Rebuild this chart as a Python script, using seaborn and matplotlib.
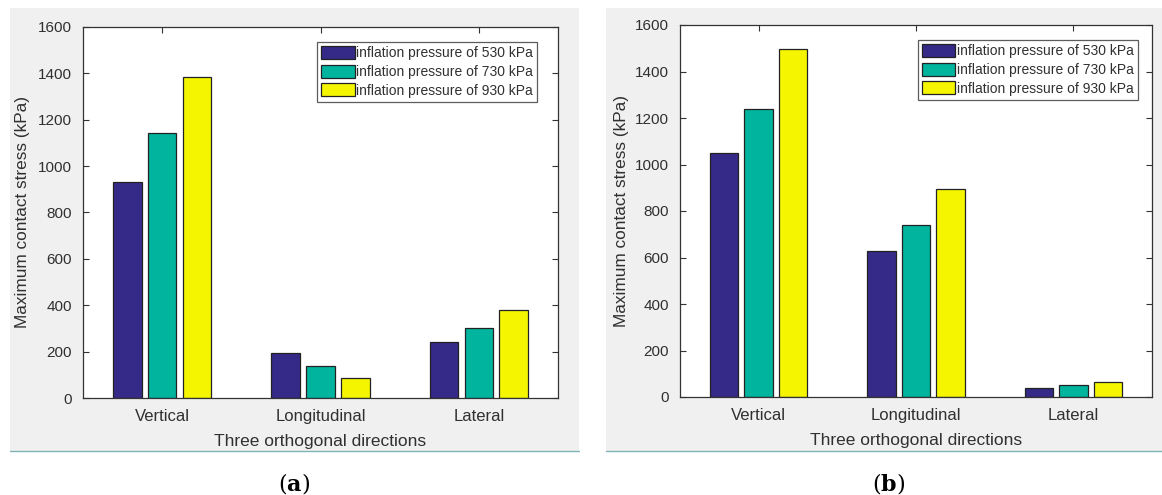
import matplotlib
matplotlib.use("Agg")
import matplotlib.pyplot as plt
import seaborn as sns
import pandas as pd
from matplotlib.patches import Rectangle

directions = ["Vertical", "Longitudinal", "Lateral"]
pressures = ["inflation pressure of 530 kPa", "inflation pressure of 730 kPa", "inflation pressure of 930 kPa"]
stress_a_530 = [930, 195, 240]
stress_a_730 = [1145, 140, 300]
stress_a_930 = [1385, 85, 380]
stress_b_530 = [1050, 630, 38]
stress_b_730 = [1240, 740, 52]
stress_b_930 = [1495, 893, 65]
yticks = [0, 200, 400, 600, 800, 1000, 1200, 1400, 1600]
colors = ["#352a87", "#00b49e", "#f5f500"]

sns.set_theme(style="white")
plt.rcParams["font.family"] = ["Liberation Sans", "DejaVu Sans"]

W, H = 1162, 495
fig = plt.figure(figsize=(W / 100, H / 100), dpi=100)
fig.patch.set_facecolor("white")

def px_axes(l, r, t, b):
    return fig.add_axes([l / W, 1 - b / H, (r - l) / W, (b - t) / H])

def make_df(s1, s2, s3):
    rows = []
    for vals, p in zip([s1, s2, s3], pressures):
        for d, v in zip(directions, vals):
            rows.append({"direction": d, "pressure": p, "stress": v})
    return pd.DataFrame(rows)

# gray panels
for (l, r) in [(10, 579), (606, 1162)]:
    rect = Rectangle((l / W, 1 - 451 / H), (r - l) / W, (451 - 8) / H,
                     transform=fig.transFigure, facecolor="#f0f0f0",
                     edgecolor="none", zorder=-10)
    fig.add_artist(rect)
    fig.add_artist(plt.Line2D([l / W, r / W], [1 - 451 / H, 1 - 451 / H],
                              transform=fig.transFigure, color="#7fb3b5", lw=1, zorder=-9))

txtc = "#303030"
panels = [
    ((83, 558, 27, 398), (stress_a_530, stress_a_730, stress_a_930), 30, 294, "a", 0.956),
    ((680, 1152, 25, 397), (stress_b_530, stress_b_730, stress_b_930), 629, 889, "b", 0.97),
]

for (l, r, t, b), series, ylx, labx, lab, legx in panels:
    ax = px_axes(l, r, t, b)
    df = make_df(*series)
    sns.barplot(data=df, x="direction", y="stress", hue="pressure",
                palette=colors, width=0.66, gap=0.18, edgecolor="#222222",
                linewidth=0.9, ax=ax, legend=True, saturation=1)
    ax.set_xlim(-0.5, 2.5)
    ax.set_ylim(0, 1600)
    ax.set_yticks(yticks)
    ax.set_yticklabels([str(v) for v in yticks])
    ax.tick_params(axis="both", direction="in", length=4, width=0.8, color="#333333",
                   labelcolor=txtc, top=True, right=True, bottom=True, left=True)
    ax.tick_params(axis="y", pad=8, labelsize=11)
    ax.tick_params(axis="x", pad=8, labelsize=12)
    for s in ax.spines.values():
        s.set_visible(True)
        s.set_color("#333333")
        s.set_linewidth(0.9)
    ax.set_facecolor("white")
    ax.set_xlabel("Three orthogonal directions", fontsize=12.5, color=txtc, labelpad=7)
    ax.set_ylabel("Maximum contact stress (kPa)", fontsize=12.4, color=txtc)
    ax.yaxis.set_label_coords((ylx - l) / (r - l), 0.5)
    leg = ax.legend(loc="upper right", bbox_to_anchor=(legx, 0.96), fontsize=10,
                    frameon=True, fancybox=False, edgecolor="#333333",
                    handlelength=2.4, handleheight=1.1, handletextpad=0.1,
                    labelspacing=0.3, borderpad=0.3, borderaxespad=0)
    leg.get_frame().set_linewidth(0.9)
    for h in leg.legend_handles:
        h.set_edgecolor("#222222")
    for tx in leg.get_texts():
        tx.set_color(txtc)
    fig.text(labx / W, 1 - 483 / H, "($\\mathbf{" + lab + "}$)", ha="center", va="center",
             fontsize=16, family="DejaVu Serif", math_fontfamily="dejavuserif", color="black")

fig.savefig("out.png", dpi=100, facecolor="white")
